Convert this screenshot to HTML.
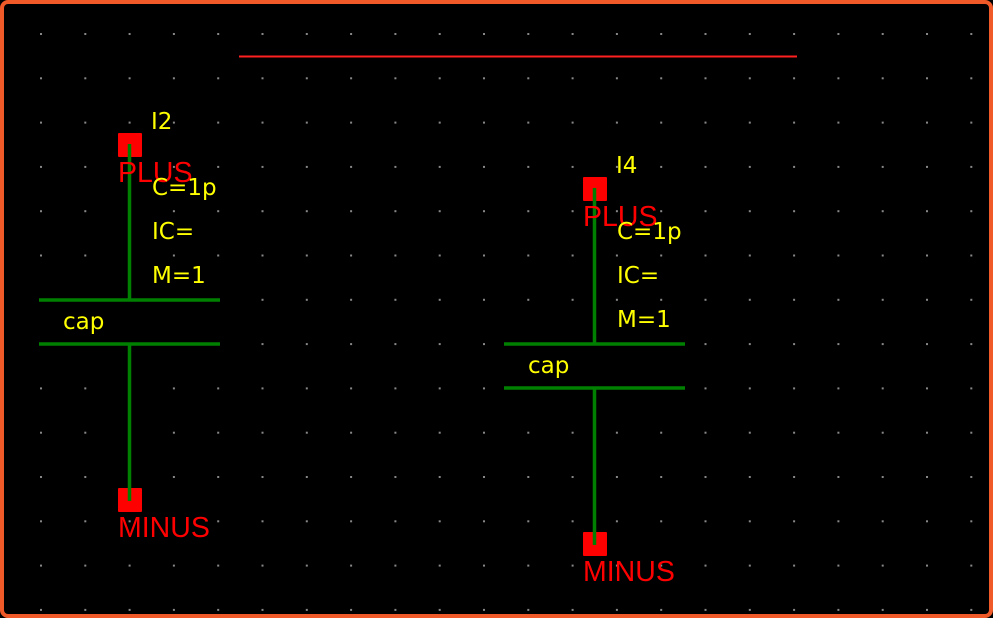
<!DOCTYPE html>
<html><head><meta charset="utf-8"><style>
html,body{margin:0;padding:0;background:#000;}
svg{display:block;}
.y{fill:#ffff00;font-family:"DejaVu Sans",sans-serif;font-size:23px;}
.r{fill:#ff0000;font-family:"Liberation Sans",sans-serif;font-size:28.5px;}
</style></head><body>
<svg width="993" height="618" viewBox="0 0 993 618" xmlns="http://www.w3.org/2000/svg">
<defs><pattern id="g" x="40" y="33" width="44.3" height="44.3" patternUnits="userSpaceOnUse"><rect x="0" y="0" width="2" height="2" fill="#888"/></pattern></defs>
<rect x="0" y="0" width="993" height="618" fill="#000"/>
<rect x="4" y="4" width="985" height="610" fill="url(#g)"/>
<rect x="2" y="2" width="989" height="614" rx="6" fill="none" stroke="#f05a28" stroke-width="4"/>
<line x1="239" y1="56.5" x2="797" y2="56.5" stroke="#ff2020" stroke-width="2"/>
<g id="c">
<rect x="118" y="133" width="24" height="24" rx="1" fill="#ff0000"/>
<rect x="118" y="488" width="24" height="24" rx="1" fill="#ff0000"/>
<g stroke="#008000" stroke-width="3.5">
<line x1="129.5" y1="144" x2="129.5" y2="300"/>
<line x1="39" y1="300" x2="220" y2="300"/>
<line x1="39" y1="344" x2="220" y2="344"/>
<line x1="129.5" y1="344" x2="129.5" y2="501"/>
</g>
<text class="r" x="118" y="182">PLUS</text>
<text class="r" x="118" y="537">MINUS</text>
<text class="y" x="152" y="195">C=1p</text>
<text class="y" x="152" y="239">IC=</text>
<text class="y" x="152" y="283">M=1</text>
<text class="y" x="63" y="329">cap</text>
</g>
<text class="y" x="151" y="129">I2</text>
<use href="#c" transform="translate(465,44)"/>
<text class="y" x="616" y="173">I4</text>
</svg>
</body></html>
